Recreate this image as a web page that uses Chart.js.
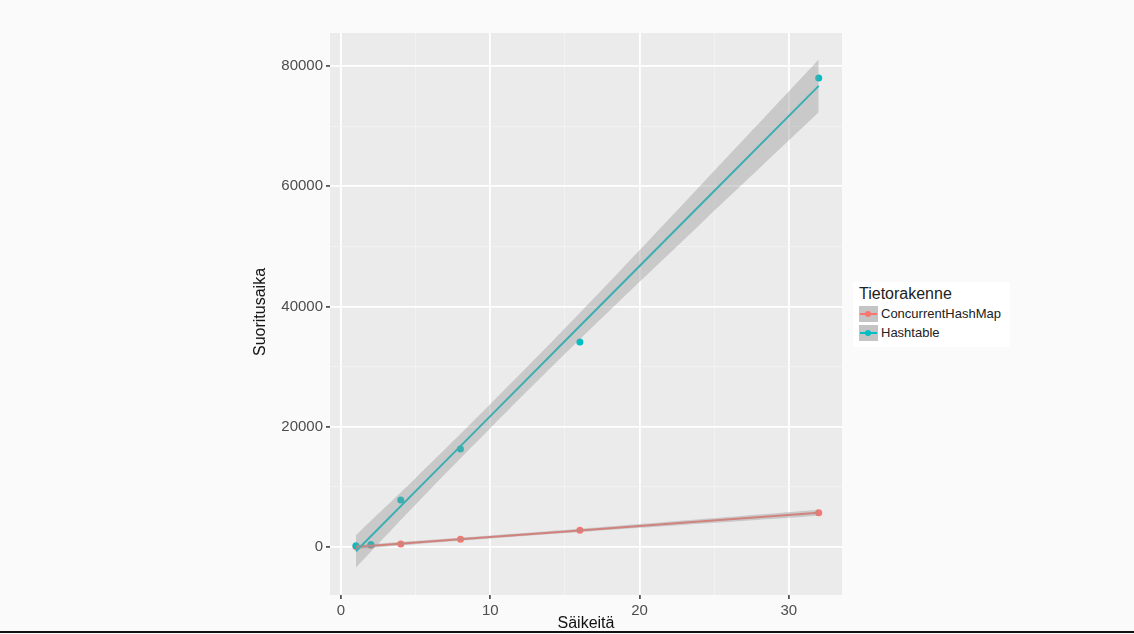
<!DOCTYPE html>
<html><head><meta charset="utf-8">
<script src="https://cdn.jsdelivr.net/npm/chart.js@4"></script>
<style>
body{margin:0;background:#fafafa;width:1134px;height:634px;overflow:hidden;font-family:"Liberation Sans",Arial,sans-serif;position:relative}
#wrap{position:absolute;left:250px;top:0;width:600px;height:634px}
.yt{position:absolute;left:260px;top:312px;transform:translate(-50%,-50%) rotate(-90deg);font-size:16px;color:#111}
.xt{position:absolute;left:586px;top:614px;transform:translateX(-50%);font-size:16px;color:#111}
#leg{position:absolute;left:853px;top:282px;width:157px;height:65px;background:#fff;font-size:13px;color:#222}
#leg .t{position:absolute;left:6px;top:3px;font-size:16px}
.it{position:absolute;left:6px;height:16px;line-height:16px}
.k{display:inline-block;width:19px;height:16px;background:#c4c4c4;vertical-align:top;position:relative;margin-right:3px}
.k i{position:absolute;left:1px;right:1px;top:7px;height:2px}
.k b{position:absolute;left:6px;top:5px;width:6px;height:6px;border-radius:3px}
#line{position:absolute;left:0;top:631px;width:1134px;height:2px;background:#111}
</style></head><body>
<div id="wrap"><canvas id="c" width="600" height="634"></canvas></div>
<div class="yt">Suoritusaika</div>
<div class="xt">Säikeitä</div>
<div id="leg"><div class="t">Tietorakenne</div>
<div class="it" style="top:24px"><span class="k"><i style="background:#f8766d"></i><b style="background:#f8766d"></b></span>ConcurrentHashMap</div>
<div class="it" style="top:43px"><span class="k"><i style="background:#00bfc4"></i><b style="background:#00bfc4"></b></span>Hashtable</div>
</div>
<div id="line"></div>
<script>
const threads = [1, 2, 4, 8, 16, 32];
const chmTimes = [100, 300, 500, 1300, 2800, 5700];
const htTimes = [200, 400, 7800, 16300, 34100, 78000];
// fitted lines and confidence bands
const bandX = [1, 5, 10, 16, 24, 32];
const htFit = [-700, 9290, 21770, 36750, 56730, 76700];
const htHalf = [2700, 2200, 2000, 2200, 3200, 4400];
const chmFit = [0, 740, 1660, 2760, 4240, 5710];
const chmHalf = [350, 280, 260, 280, 380, 500];

const pts = (xs, ys) => xs.map((x, i) => ({x, y: ys[i]}));
const RED = '#f8766d', CYAN = '#00bfc4', BAND = 'rgba(150,150,150,0.4)';

function band(fit, half, sign) { return pts(bandX, fit.map((v, i) => v + sign * half[i])); }

new Chart(document.getElementById('c'), {
  type: 'scatter',
  data: { datasets: [
    {data: band(htFit, htHalf, -1), showLine: true, borderWidth: 0, pointRadius: 0, tension: 0.4},
    {data: band(htFit, htHalf, 1), showLine: true, borderWidth: 0, pointRadius: 0, fill: '-1', backgroundColor: BAND, tension: 0.4},
    {data: band(chmFit, chmHalf, -1), showLine: true, borderWidth: 0, pointRadius: 0, tension: 0.4},
    {data: band(chmFit, chmHalf, 1), showLine: true, borderWidth: 0, pointRadius: 0, fill: '-1', backgroundColor: BAND, tension: 0.4},
    {data: pts(bandX, htFit), showLine: true, borderColor: CYAN, borderWidth: 2, pointRadius: 0},
    {data: pts(bandX, chmFit), showLine: true, borderColor: RED, borderWidth: 2, pointRadius: 0},
    {data: pts(threads, htTimes), pointRadius: 3.5, backgroundColor: CYAN, borderWidth: 0},
    {data: pts(threads, chmTimes), pointRadius: 3.5, backgroundColor: RED, borderWidth: 0}
  ]},
  options: {
    responsive: false, animation: false,
    layout: {padding: {top: 33, right: 8}},
    plugins: {legend: {display: false}, tooltip: {enabled: false}},
    scales: {
      x: {min: -0.74, max: 33.56,
        afterFit: s => { s.height = 39; },
        afterBuildTicks: s => { s.ticks = [0,5,10,15,20,25,30].map(v => ({value: v})); },
        ticks: {color: '#4d4d4d', font: {size: 15, family: 'Liberation Sans'}, autoSkip: false, maxRotation: 0,
          callback: v => v % 10 === 0 ? v : ''},
        border: {display: false},
        grid: {color: c => c.tick.value % 10 === 0 ? '#ffffff' : '#f4f4f4',
          lineWidth: c => c.tick.value % 10 === 0 ? 1.8 : 0.8,
          tickColor: c => c.tick.value % 10 === 0 ? '#555' : 'rgba(0,0,0,0)', tickLength: 4}},
      y: {min: -7980, max: 85490,
        afterFit: s => { s.width = 80; },
        afterBuildTicks: s => { s.ticks = [0,10000,20000,30000,40000,50000,60000,70000,80000].map(v => ({value: v})); },
        ticks: {color: '#4d4d4d', font: {size: 15, family: 'Liberation Sans'}, autoSkip: false,
          callback: v => v % 20000 === 0 ? v : ''},
        border: {display: false},
        grid: {color: c => c.tick.value % 20000 === 0 ? '#ffffff' : '#f4f4f4',
          lineWidth: c => c.tick.value % 20000 === 0 ? 1.8 : 0.8,
          tickColor: c => c.tick.value % 20000 === 0 ? '#555' : 'rgba(0,0,0,0)', tickLength: 4}}
    }
  },
  plugins: [{id: 'bg', beforeDraw: ch => { const a = ch.chartArea, x = ch.ctx;
    x.save(); x.fillStyle = '#ebebeb'; x.fillRect(a.left, a.top, a.right - a.left, a.bottom - a.top); x.restore(); }}]
});
</script>
</body></html>
